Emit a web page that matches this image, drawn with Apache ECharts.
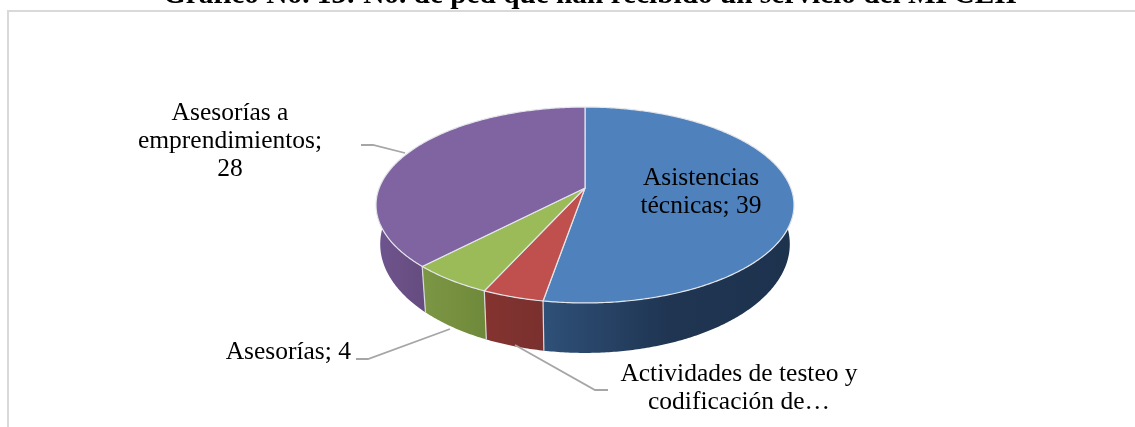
<!DOCTYPE html>
<html>
<head>
<meta charset="utf-8">
<style>html,body{margin:0;padding:0;background:#fff}#c{width:1135px;height:427px}</style>
<script src="https://cdn.jsdelivr.net/npm/echarts@6/dist/echarts.min.js"></script>
</head>
<body>
<div id="c"></div>
<script>
var titleText = 'Gráfico No. 13: No. de ped que han recibido un servicio del MPCEII';
var categories = ['Asistencias técnicas', 'Actividades de testeo y codificación de pruebas', 'Asesorías', 'Asesorías a emprendimientos'];
var values = [39, 3, 4, 28];
var labelTexts = ['Asistencias\ntécnicas; 39', 'Actividades de testeo y\ncodificación de…', 'Asesorías; 4', 'Asesorías a\nemprendimientos;\n28'];
var topColors = ['#4F81BD', '#C0504D', '#9BBB59', '#8064A2'];
var wallStops = [
  ['#2F5078', '#1F3552', '#1D324D'],
  ['#85332F', '#7E322F', '#7A302E'],
  ['#7B9645', '#76903F', '#6F893B'],
  ['#6F5590', '#6A5085', '#644B80']
];

var total = values.reduce(function (a, b) { return a + b; }, 0);
var cumulative = [];
values.reduce(function (a, b, i) { cumulative[i] = a; return a + b; }, 0);

// Perspective disc: a circle seen from above, apex off the ellipse centre
var CX = 585, CY = 188, A = 205.8, B = 62.4, K = -0.1735;
var DEPTH = 37.3, SX = 0.98, SY = 1.11;
function topPoint(t) {
  var u = Math.sin(t), v = -Math.cos(t), d = 1 + K * v;
  return [CX + A * u / d, (B * v + CY) / d];
}
function bottomPoint(t) {
  var p = topPoint(t);
  return [CX + SX * (p[0] - CX), CY + DEPTH + SY * (p[1] - CY)];
}
function arc(fn, a, b) {
  var n = Math.max(2, Math.ceil(Math.abs(b - a) / 0.01)), pts = [];
  for (var i = 0; i <= n; i++) pts.push(fn(a + (b - a) * i / n));
  return pts;
}
var leaderLines = {
  1: [[515, 345], [595, 390], [608, 390]],
  2: [[450, 329], [368, 359], [356, 359]],
  3: [[405, 153], [373, 145], [361, 145]]
};
var labelPlaces = [
  { x: 701, y: 192, align: 'center' },
  { x: 739, y: 388, align: 'center' },
  { x: 351, y: 352, align: 'right' },
  { x: 230, y: 141, align: 'center' }
];
var LABEL_FONT = '25.5px "Liberation Serif"';

function renderSlice(params, api) {
  var i = params.dataIndex;
  var start = api.value(1) / total * 2 * Math.PI;
  var end = (api.value(1) + api.value(0)) / total * 2 * Math.PI;
  var kids = [];
  var frontA = Math.max(start, Math.PI / 2), frontB = Math.min(end, 1.5 * Math.PI);
  if (frontB > frontA) {
    var wall = arc(topPoint, frontA, frontB).concat(arc(bottomPoint, frontB, frontA));
    kids.push({
      type: 'polygon', shape: { points: wall },
      style: {
        fill: new echarts.graphic.LinearGradient(0, 0, 1, 0, [
          { offset: 0, color: wallStops[i][0] },
          { offset: 0.5, color: wallStops[i][1] },
          { offset: 1, color: wallStops[i][2] }
        ])
      }
    });
    if (end < 1.5 * Math.PI) {
      kids.push({
        type: 'line', z2: 2,
        shape: { x1: topPoint(end)[0], y1: topPoint(end)[1], x2: bottomPoint(end)[0], y2: bottomPoint(end)[1] },
        style: { stroke: '#D9D9D9', lineWidth: 1.2 }
      });
    }
  }
  var face = [[CX, CY]].concat(arc(topPoint, start, end));
  kids.push({
    type: 'polygon', shape: { points: face }, z2: 3,
    style: { fill: topColors[i], stroke: '#E3E6EA', lineWidth: 1.2, lineJoin: 'round' }
  });
  if (leaderLines[i]) {
    kids.push({
      type: 'polyline', shape: { points: leaderLines[i] }, z2: 0,
      style: { fill: null, stroke: '#A6A6A6', lineWidth: 1.8 }
    });
  }
  var lp = labelPlaces[i];
  kids.push({
    type: 'text', z2: 10,
    style: {
      x: lp.x, y: lp.y, text: labelTexts[i], font: LABEL_FONT, fill: '#000',
      align: lp.align, verticalAlign: 'middle', lineHeight: 28
    }
  });
  return { type: 'group', children: kids };
}

var chart = echarts.init(document.getElementById('c'));
chart.setOption({
  animation: false,
  backgroundColor: '#fff',
  graphic: [
    { type: 'rect', silent: true, z: 0, shape: { x: 8, y: 11, width: 1200, height: 500 },
      style: { fill: '#fff', stroke: '#D9D9D9', lineWidth: 2 } },
    { type: 'text', silent: true, z: 5,
      style: { x: 590, y: -19, text: titleText, font: 'bold 29.3px "Liberation Serif"', fill: '#000', align: 'center', verticalAlign: 'top' } }
  ],
  series: [{
    type: 'custom',
    coordinateSystem: 'none',
    z: 3,
    data: categories.map(function (name, i) { return { name: name, value: [values[i], cumulative[i]] }; }),
    renderItem: renderSlice
  }]
});
</script>
</body>
</html>
